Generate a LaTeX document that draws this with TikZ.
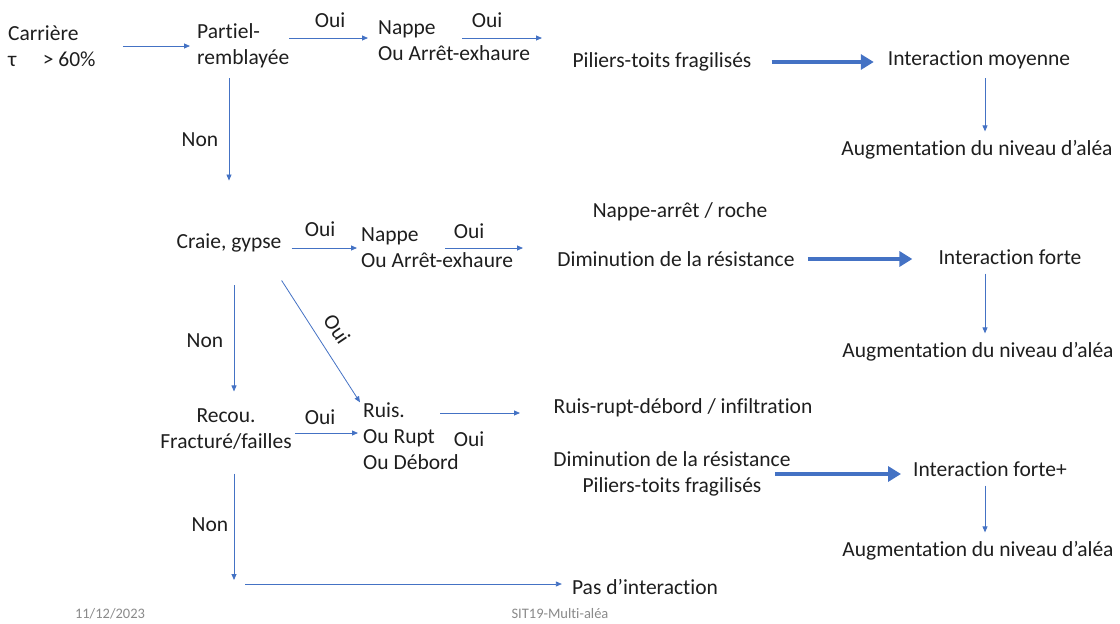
\documentclass[tikz,border=0pt]{standalone}
\usepackage{fontspec}
\setmainfont{Carlito}[Ligatures=NoCommon]
\usetikzlibrary{arrows.meta,calc}
\definecolor{flow}{HTML}{4472C4}
\definecolor{txt}{HTML}{1E1E1E}
\definecolor{foot}{HTML}{8A8A8A}
\begin{document}
\begin{tikzpicture}[x=1pt,y=-1pt,
  lbl/.style={font=\fontsize{21.5}{26}\selectfont, text=txt, inner sep=0pt, align=center},
  lbll/.style={lbl, align=left, anchor=west},
  arr/.style={draw=flow, line width=0.8pt, -{Triangle[length=6pt,width=5pt]}},
  bigarr/.style={draw=flow, line width=4.6pt, -{Triangle[length=13pt,width=15pt]}},
  footnote/.style={font=\fontsize{14.5}{17}\selectfont, text=foot, inner sep=0pt}]
\useasboundingbox (0,0) rectangle (1120,624);

% first branch
\node[lbll] (carr) at (8,46) {Carrière\\τ\quad{} > 60\%};
\node[lbll] (part) at (197,46) {Partiel-\\remblayée};
\node[lbll] (napA) at (378,41) {Nappe\\Ou Arrêt-exhaure};
\node[lbl] (pilA) at (662,62) {Piliers-toits fragilisés};
\node[lbl] (intA) at (979,60) {Interaction moyenne};
\node[lbl] (augA) at (977,150) {Augmentation du niveau d’aléa};

% second branch
\node[lbl] (craie) at (229,243) {Craie, gypse};
\node[lbll] (napB) at (361,248) {Nappe\\Ou Arrêt-exhaure};
\node[lbl] (roche) at (680,212) {Nappe-arrêt / roche};
\node[lbl] (dimB) at (676,259) {Diminution de la résistance};
\node[lbl] (intB) at (1010,257) {Interaction forte};
\node[lbl] (augB) at (978,352) {Augmentation du niveau d’aléa};

% third branch
\node[lbl] (recou) at (226,429) {Recou.\\Fracturé/failles};
\node[lbll] (ruis) at (363,436) {Ruis.\\Ou Rupt\\Ou Débord};
\node[lbl] (infil) at (683,408) {Ruis-rupt-débord / infiltration};
\node[lbl] (dimC) at (672,474) {Diminution de la résistance\\Piliers-toits fragilisés};
\node[lbl] (intC) at (990,469) {Interaction forte+};
\node[lbl] (augC) at (978,551) {Augmentation du niveau d’aléa};

% no interaction
\node[lbl] (pas) at (645,587) {Pas d’interaction};

% branch labels
\node[lbl] (o1) at (330,20) {Oui};
\node[lbl] (o2) at (487,20) {Oui};
\node[lbl] (n1) at (200,140) {Non};
\node[lbl] (o3) at (320,229) {Oui};
\node[lbl] (o4) at (469,231) {Oui};
\node[lbl] (n2) at (205,341) {Non};
\node[lbl, rotate=-56] (o5) at (337,329) {Oui};
\node[lbl] (o6) at (320,417) {Oui};
\node[lbl] (o7) at (469,439) {Oui};
\node[lbl] (n3) at (210,525) {Non};

% free ends of the open arrows
\coordinate (sA) at (462,38);
\coordinate (eA) at (542,38);
\coordinate (sB) at (445,248);
\coordinate (eB) at (523,248);
\coordinate (sC) at (440,413);
\coordinate (eC) at (520,413);
\coordinate (eN) at (234,580);
\coordinate (sN) at (245,584);

% connectors
\draw[arr, shorten <=27pt, shorten >=7pt] (carr.east) -- (part.west |- carr.east);
\draw[arr, shorten <=0pt, shorten >=10pt] (part.east |- eA) -- (napA.west |- eA);
\draw[arr] (sA) -- (eA);
\draw[bigarr, shorten <=20pt, shorten >=14pt] (pilA.east) -- (intA.west |- pilA.east);
\draw[arr, shorten <=9pt, shorten >=9pt] (intA.south -| 985,0) -- (augA.north -| 985,0);
\draw[arr, shorten <=10pt, shorten >=53pt] (part.south -| craie) -- (craie.north);

\draw[arr, shorten <=10pt, shorten >=4pt] (craie.east |- sB) -- (napB.west |- sB);
\draw[arr] (sB) -- (eB);
\draw[bigarr, shorten <=13pt, shorten >=26pt] (dimB.east) -- (intB.west |- dimB.east);
\draw[arr, shorten <=9pt, shorten >=9pt] (intB.south -| 985,0) -- (augB.north -| 985,0);
\draw[arr, shorten <=33pt, shorten >=17pt] (craie.south -| 234,0) -- (recou.north -| 234,0);
\draw[arr] ([yshift=-28pt]craie.south east) -- ([xshift=-3pt]ruis.north west);

\draw[arr, shorten <=3pt, shorten >=5pt] (recou.east |- 0,433) -- (ruis.west |- 0,433);
\draw[arr] (sC) -- (eC);
\draw[bigarr, shorten >=12pt] ([xshift=-16pt]dimC.east) -- (intC.west |- dimC.east);
\draw[arr, shorten <=9pt, shorten >=9pt] (intC.south -| 985,0) -- (augC.north -| 985,0);
\draw[arr, shorten <=24pt] (recou.south -| eN) -- (eN);
\draw[arr, shorten >=10pt] (sN) -- (pas.west |- sN);

% footer
\node[footnote] (date) at (110,614) {11/12/2023};
\node[footnote] (ref) at (560,614) {SIT19-Multi-aléa};
\end{tikzpicture}
\end{document}
